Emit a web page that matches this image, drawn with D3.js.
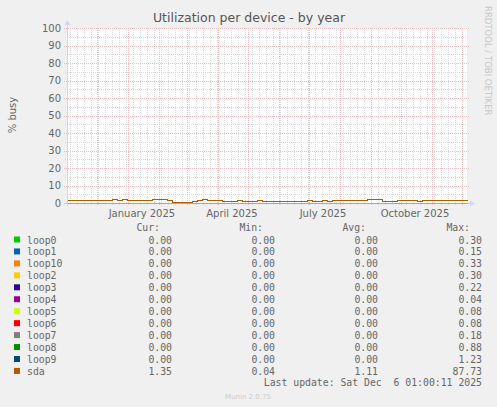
<!DOCTYPE html>
<html>
<head>
<meta charset="utf-8">
<script src="https://cdn.jsdelivr.net/npm/d3@7"></script>
<style>
  body { margin: 0; background: #f0f0f0; }
  svg { display: block; }
</style>
</head>
<body>
<div id="chart"></div>
<script>
// series names and colours (munin palette)
const seriesNames = ["loop0", "loop1", "loop10", "loop2", "loop3", "loop4", "loop5", "loop6", "loop7", "loop8", "loop9", "sda"];
const seriesColors = ["#00cc00", "#0066b3", "#ff8000", "#ffcc00", "#330099", "#990099", "#ccff00", "#ff0000", "#808080", "#008f00", "#00487d", "#b35a00"];

// legend stats
const curVals = ["0.00", "0.00", "0.00", "0.00", "0.00", "0.00", "0.00", "0.00", "0.00", "0.00", "0.00", "1.35"];
const minVals = ["0.00", "0.00", "0.00", "0.00", "0.00", "0.00", "0.00", "0.00", "0.00", "0.00", "0.00", "0.04"];
const avgVals = ["0.00", "0.00", "0.00", "0.00", "0.00", "0.00", "0.00", "0.00", "0.00", "0.00", "0.00", "1.11"];
const maxVals = ["0.30", "0.15", "0.33", "0.30", "0.22", "0.04", "0.08", "0.08", "0.18", "0.88", "1.23", "87.73"];

// time range: last 400 days up to last update
const startTime = new Date(Date.UTC(2024, 10, 1, 1, 0, 0));
const endTime = new Date(Date.UTC(2025, 11, 6, 1, 0, 0));
const stepDays = 5;

// sda % busy, one sample every 5 days from start
const sdaValues = [
  1.5, 1.5, 1.5, 1.5, 1.5, 1.5, 1.5, 1.5, 1.6, 2.3,
  1.6, 2.3, 1.5, 1.5, 1.5, 1.5, 1.5, 2.2, 2.5, 2.1,
  1.7, 0.7, 0.3, 0.6, 0.7, 1.0, 2.0, 2.1, 1.9, 2.0,
  1.6, 1.4, 0.9, 1.2, 1.5, 1.2, 1.4, 1.2, 1.5, 1.1,
  1.0, 1.3, 1.2, 1.4, 1.3, 1.2, 1.4, 1.3, 1.8, 1.4,
  1.3, 1.6, 1.4, 1.5, 1.7, 1.9, 1.6, 2.0, 1.7, 1.8,
  2.3, 2.1, 2.2, 1.3, 1.2, 1.4, 1.8, 1.9, 1.7, 1.5,
  1.4, 1.5, 1.6, 2.0, 1.7, 1.9, 1.6, 2.0, 1.7, 1.8,
  1.6
];

// loop devices sit at ~0 the whole year (one sample every 50 days)
const loopStep = 50;
const loopValues = [
  [0, 0, 0, 0, 0, 0, 0, 0, 0],
  [0, 0, 0, 0, 0, 0, 0, 0, 0],
  [0, 0, 0, 0, 0, 0, 0, 0, 0],
  [0, 0, 0, 0, 0, 0, 0, 0, 0],
  [0, 0, 0, 0, 0, 0, 0, 0, 0],
  [0, 0, 0, 0, 0, 0, 0, 0, 0],
  [0, 0, 0, 0, 0, 0, 0, 0, 0],
  [0, 0, 0, 0, 0, 0, 0, 0, 0],
  [0, 0, 0, 0, 0, 0, 0, 0, 0],
  [0, 0, 0, 0, 0, 0, 0, 0, 0],
  [0, 0, 0, 0, 0, 0, 0, 0, 0]
];

const yTicks = [0, 10, 20, 30, 40, 50, 60, 70, 80, 90, 100];
const yMinorTicks = [5, 15, 25, 35, 45, 55, 65, 75, 85, 95];
// month labels sit in the middle of the month
const xLabelDates = [
  new Date(Date.UTC(2025, 0, 15)),
  new Date(Date.UTC(2025, 3, 15)),
  new Date(Date.UTC(2025, 6, 15)),
  new Date(Date.UTC(2025, 9, 15))
];

const W = 497, H = 407;
const plot = { left: 67, right: 467, top: 28, bottom: 203 };

const svg = d3.select("#chart").append("svg")
  .attr("width", W)
  .attr("height", H);

svg.append("rect").attr("width", W).attr("height", H).attr("fill", "#f0f0f0");
svg.append("rect")
  .attr("x", plot.left).attr("y", plot.top)
  .attr("width", plot.right - plot.left).attr("height", plot.bottom - plot.top)
  .attr("fill", "#ffffff");

var x = d3.scaleUtc().domain([startTime, endTime]).range([plot.left, plot.right]);
var y = d3.scaleLinear().domain([0, 100]).range([plot.bottom, plot.top]);

const dayMs = 24 * 3600 * 1000;
const minorColor = "#dadada";
const majorColor = "#f2bcbc";

// minor grid (weeks / 5%)
const grid = svg.append("g").attr("shape-rendering", "crispEdges");
d3.utcMonday.range(startTime, endTime).forEach(function (d) {
  grid.append("line")
    .attr("x1", Math.round(x(d)) + 0.5).attr("x2", Math.round(x(d)) + 0.5)
    .attr("y1", plot.top).attr("y2", plot.bottom + 2)
    .attr("stroke", minorColor).attr("stroke-dasharray", "1,1");
});
yMinorTicks.forEach(function (v) {
  grid.append("line")
    .attr("x1", plot.left - 2).attr("x2", plot.right + 2)
    .attr("y1", Math.round(y(v)) + 0.5).attr("y2", Math.round(y(v)) + 0.5)
    .attr("stroke", minorColor).attr("stroke-dasharray", "1,1");
});
// major grid (months / 10%)
d3.utcMonth.range(startTime, endTime).forEach(function (d) {
  grid.append("line")
    .attr("x1", Math.round(x(d)) + 0.5).attr("x2", Math.round(x(d)) + 0.5)
    .attr("y1", plot.top).attr("y2", plot.bottom + 3)
    .attr("stroke", majorColor).attr("stroke-dasharray", "1,1");
});
yTicks.forEach(function (v) {
  grid.append("line")
    .attr("x1", plot.left - 3).attr("x2", plot.right + 3)
    .attr("y1", Math.round(y(v)) + 0.5).attr("y2", Math.round(y(v)) + 0.5)
    .attr("stroke", majorColor).attr("stroke-dasharray", "1,1");
});

// y tick labels
svg.append("g").selectAll("text")
  .data(yTicks)
  .enter()
  .append("text")
  .attr("x", plot.left - 6)
  .attr("y", function (d) { return y(d) + 3.5; })
  .attr("text-anchor", "end")
  .attr("font-family", "DejaVu Sans")
  .attr("font-size", "10px")
  .attr("fill", "#666666")
  .text(function (d) { return d; });

// x labels
svg.append("g").selectAll("text")
  .data(xLabelDates)
  .enter()
  .append("text")
  .attr("x", function (d) { return x(d); })
  .attr("y", 217)
  .attr("text-anchor", "middle")
  .attr("font-family", "DejaVu Sans")
  .attr("font-size", "10px")
  .attr("fill", "#666666")
  .text(d3.utcFormat("%B %Y"));

// lines (half-pixel offset keeps 1px strokes sharp like rrdtool)
var line = d3.line()
  .x(function (d) { return Math.round(x(d.t)) + 0.5; })
  .y(function (d) { return Math.round(y(d.v)) + 0.5; })
  .curve(d3.curveStepAfter);

loopValues.forEach(function (vals, i) {
  const pts = vals.map(function (v, j) {
    return { t: new Date(Math.min(+startTime + j * loopStep * dayMs, +endTime)), v: v };
  });
  svg.append("path")
    .datum(pts)
    .attr("d", line)
    .attr("fill", "none")
    .attr("stroke", seriesColors[i])
    .attr("stroke-width", 1)
    .attr("shape-rendering", "crispEdges");
});

// axes
svg.append("line")
  .attr("x1", plot.left - 3).attr("x2", plot.right + 4)
  .attr("y1", plot.bottom + 0.5).attr("y2", plot.bottom + 0.5)
  .attr("stroke", "#b8c2ee").attr("stroke-opacity", 0.8);
svg.append("line")
  .attr("x1", plot.left + 0.5).attr("x2", plot.left + 0.5)
  .attr("y1", plot.bottom + 3).attr("y2", plot.top - 4)
  .attr("stroke", "#cfd6f8");
svg.append("path")
  .attr("d", "M" + (plot.left - 2.5) + "," + (plot.top - 3) + "L" + (plot.left + 0.5) + "," + (plot.top - 8) + "L" + (plot.left + 3.5) + "," + (plot.top - 3) + "Z")
  .attr("fill", "#cfd6f8");
svg.append("path")
  .attr("d", "M" + (plot.right + 3) + "," + (plot.bottom - 2.5) + "L" + (plot.right + 8) + "," + (plot.bottom + 0.5) + "L" + (plot.right + 3) + "," + (plot.bottom + 3.5) + "Z")
  .attr("fill", "#cfd6f8");

const sdaPoints = sdaValues.map(function (v, i) {
  return { t: new Date(Math.min(+startTime + i * stepDays * dayMs, +endTime)), v: v };
});
svg.append("path")
  .datum(sdaPoints)
  .attr("d", line)
  .attr("fill", "none")
  .attr("stroke", seriesColors[11])
  .attr("stroke-width", 1)
  .attr("shape-rendering", "crispEdges");

// title and labels
svg.append("text")
  .attr("x", 249).attr("y", 22)
  .attr("text-anchor", "middle")
  .attr("font-family", "DejaVu Sans")
  .attr("font-size", "12.5px")
  .attr("fill", "#555555")
  .text("Utilization per device - by year");

svg.append("text")
  .attr("transform", "translate(16,115) rotate(-90)")
  .attr("text-anchor", "middle")
  .attr("font-family", "DejaVu Sans")
  .attr("font-size", "10px")
  .attr("fill", "#666666")
  .text("% busy");

svg.append("text")
  .attr("transform", "translate(485,6) rotate(90)")
  .attr("text-anchor", "start")
  .attr("font-family", "DejaVu Sans")
  .attr("font-size", "8.5px")
  .attr("fill", "#c8c8c8")
  .text("RRDTOOL / TOBI OETIKER");

// legend
const mono = "DejaVu Sans Mono";
const legend = svg.append("g")
  .attr("font-family", mono)
  .attr("font-size", "9.8px")
  .attr("fill", "#666666");

const colRight = [172, 275, 378, 482];
const headers = ["Cur:", "Min:", "Avg:", "Max:"];
headers.forEach(function (h, i) {
  legend.append("text")
    .attr("x", colRight[i] - 12).attr("y", 230.5)
    .attr("text-anchor", "end")
    .text(h);
});

seriesNames.forEach(function (name, i) {
  const yy = 243.5 + i * 11.95;
  legend.append("rect")
    .attr("x", 14).attr("y", yy - 7)
    .attr("width", 6).attr("height", 6)
    .attr("fill", seriesColors[i]);
  legend.append("text").attr("x", 27).attr("y", yy).text(name);
  [curVals[i], minVals[i], avgVals[i], maxVals[i]].forEach(function (v, k) {
    legend.append("text")
      .attr("x", colRight[k]).attr("y", yy)
      .attr("text-anchor", "end")
      .text(v);
  });
});

legend.append("text")
  .attr("x", 482).attr("y", 386)
  .attr("text-anchor", "end")
  .attr("xml:space", "preserve")
  .style("white-space", "pre")
  .text("Last update: Sat Dec  6 01:00:11 2025");

svg.append("text")
  .attr("x", 248).attr("y", 399)
  .attr("text-anchor", "middle")
  .attr("font-family", "DejaVu Sans")
  .attr("font-size", "7px")
  .attr("fill", "#cccccc")
  .text("Munin 2.0.75");
</script>
</body>
</html>
